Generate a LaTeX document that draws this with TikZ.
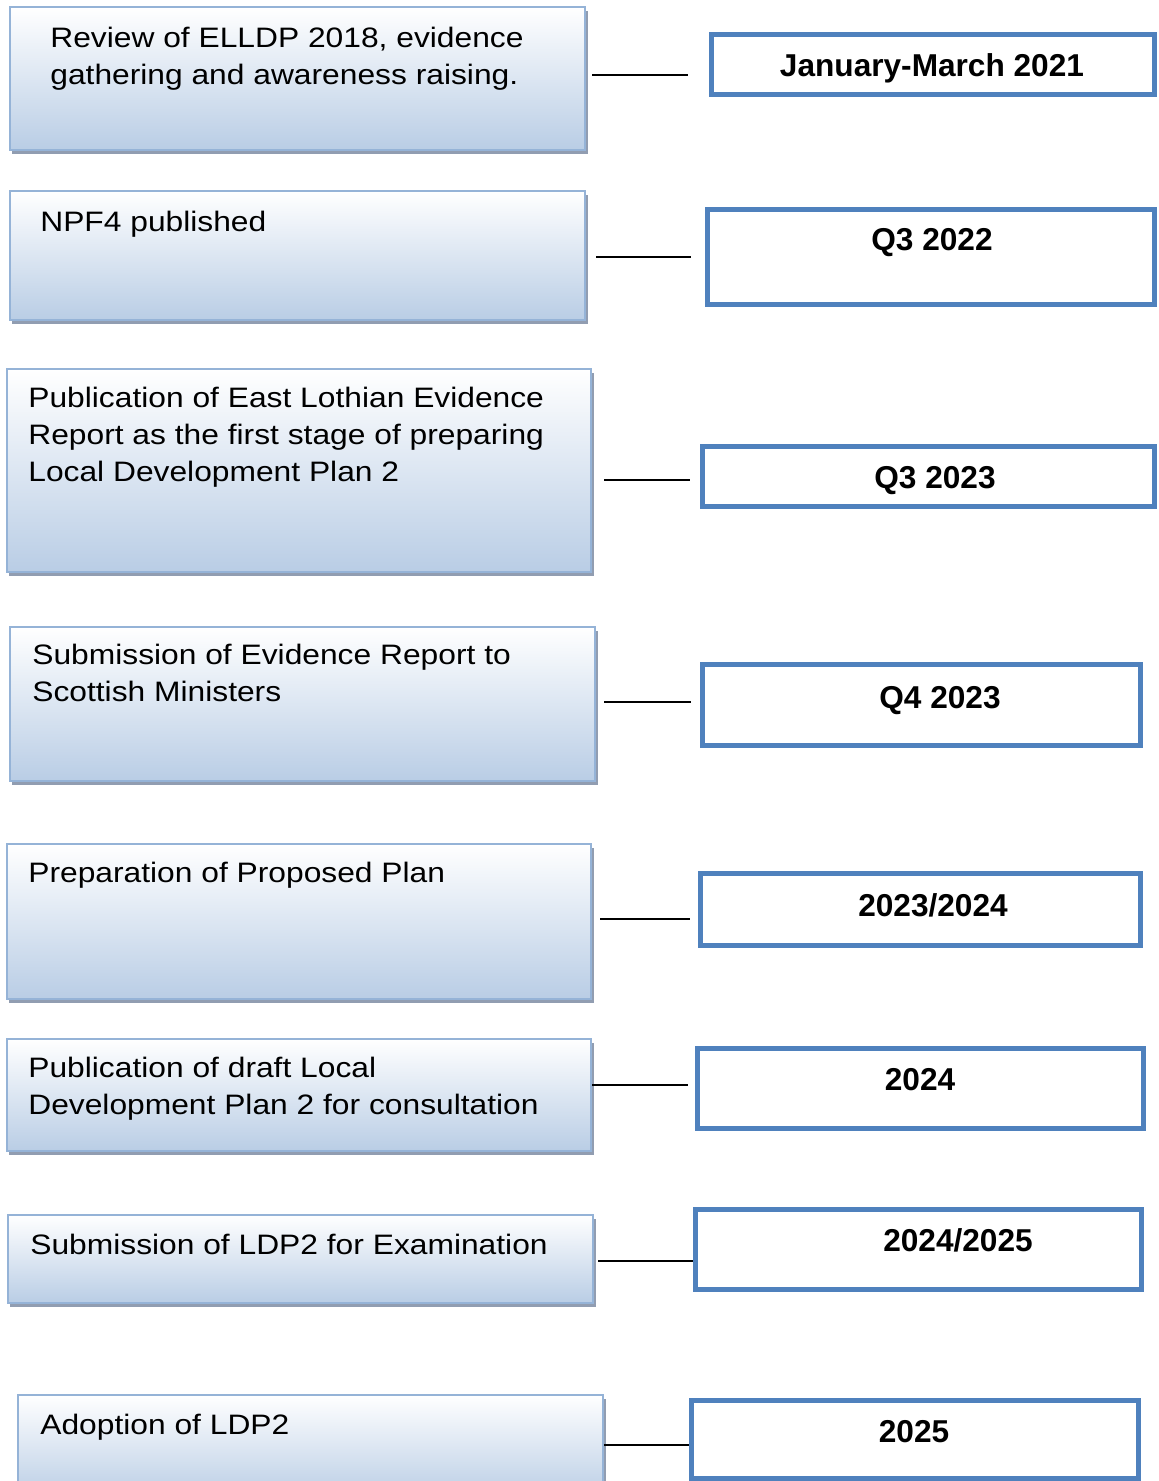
\documentclass[tikz,border=0pt]{standalone}
\usepackage{fontspec}
\setmainfont{Liberation Sans}
\newfontfamily\stagefont[FakeStretch=1.13]{Liberation Sans}
\usetikzlibrary{fit,shadows}
\definecolor{stageline}{RGB}{149,179,215}
\definecolor{stagefill}{RGB}{185,205,229}
\definecolor{stageshadow}{RGB}{145,157,177}
\definecolor{dateline}{RGB}{79,129,189}

\begin{document}
\begin{tikzpicture}[x=0.02cm,y=-0.02cm,
  stage/.style={draw=stageline, line width=1.2pt, inner sep=0pt,
    top color=white, bottom color=stagefill,
    drop shadow={shadow xshift=0.05cm, shadow yshift=-0.07cm,
      fill=stageshadow, opacity=1}},
  stagetext/.style={anchor=base west, inner sep=0pt, align=left,
    font=\stagefont\fontsize{16}{20.8}\selectfont},
  datebox/.style={draw=dateline, line width=0.1cm, fill=white, inner sep=0pt},
  datetext/.style={anchor=base, inner sep=0pt,
    font=\bfseries\fontsize{18}{21}\selectfont},
  link/.style={line width=0.04cm}]

\useasboundingbox (0,0) rectangle (1159,1481);

% stages on the left (text placed by the baseline of its last line)
\node[stage, fit={(10,7) (585,150)}] (s1) {};
\node[stagetext] (s1t) at (50,84) {Review of ELLDP 2018, evidence\\gathering and awareness raising.};
\node[stage, fit={(10,191) (585,320)}] (s2) {};
\node[stagetext] (s2t) at (40,231) {NPF4 published};
\node[stage, fit={(7,369) (591,572)}] (s3) {};
\node[stagetext] (s3t) at (28,481) {Publication of East Lothian Evidence\\Report as the first stage of preparing\\Local Development Plan 2};
\node[stage, fit={(10,627) (595,781)}] (s4) {};
\node[stagetext] (s4t) at (32,701) {Submission of Evidence Report to\\Scottish Ministers};
\node[stage, fit={(7,844) (591,999)}] (s5) {};
\node[stagetext] (s5t) at (28,882) {Preparation of Proposed Plan};
\node[stage, fit={(7,1039) (591,1151)}] (s6) {};
\node[stagetext] (s6t) at (28,1114) {Publication of draft Local\\Development Plan 2 for consultation};
\node[stage, fit={(8,1215) (593,1303)}] (s7) {};
\node[stagetext] (s7t) at (30,1254) {Submission of LDP2 for Examination};
\node[stage, fit={(18,1395) (603,1500)}] (s8) {};
\node[stagetext] (s8t) at (40,1434) {Adoption of LDP2};

% dates on the right
\node[datebox, fit={(711.5,34.5) (1154.5,94.5)}] (d1) {};
\node[datetext] (d1t) at (932,76) {January-March 2021};
\node[datebox, fit={(707.5,209.5) (1154.5,304.5)}] (d2) {};
\node[datetext] (d2t) at (932,250) {Q3 2022};
\node[datebox, fit={(702.5,446.5) (1154.5,506.5)}] (d3) {};
\node[datetext] (d3t) at (935,488) {Q3 2023};
\node[datebox, fit={(702.5,664.5) (1140.5,745.5)}] (d4) {};
\node[datetext] (d4t) at (940,708) {Q4 2023};
\node[datebox, fit={(700.5,873.5) (1140.5,945.5)}] (d5) {};
\node[datetext] (d5t) at (933,916) {2023/2024};
\node[datebox, fit={(697.5,1048.5) (1143.5,1128.5)}] (d6) {};
\node[datetext] (d6t) at (920,1090) {2024};
\node[datebox, fit={(695.5,1209.5) (1141.5,1289.5)}] (d7) {};
\node[datetext] (d7t) at (958,1251) {2024/2025};
\node[datebox, fit={(691.5,1400.5) (1138.5,1478.5)}] (d8) {};
\node[datetext] (d8t) at (914,1442) {2025};

% links
\draw[link, shorten <=0.12cm, shorten >=0.42cm] (s1.east |- 0,75) -- (d1.west |- 0,75);
\draw[link, shorten <=0.2cm, shorten >=0.28cm] (s2.east |- 0,257) -- (d2.west |- 0,257);
\draw[link, shorten <=0.24cm, shorten >=0.2cm] (s3.east |- 0,480) -- (d3.west |- 0,480);
\draw[link, shorten <=0.16cm, shorten >=0.18cm] (s4.east |- 0,702) -- (d4.west |- 0,702);
\draw[link, shorten <=0.16cm, shorten >=0.16cm] (s5.east |- 0,919) -- (d5.west |- 0,919);
\draw[link, shorten >=0.14cm] (s6.east |- 0,1085) -- (d6.west |- 0,1085);
\draw[link, shorten <=0.08cm] (s7.east |- 0,1261) -- (d7.west |- 0,1261);
\draw[link] (s8.east |- 0,1445) -- (d8.west |- 0,1445);
\end{tikzpicture}
\end{document}
